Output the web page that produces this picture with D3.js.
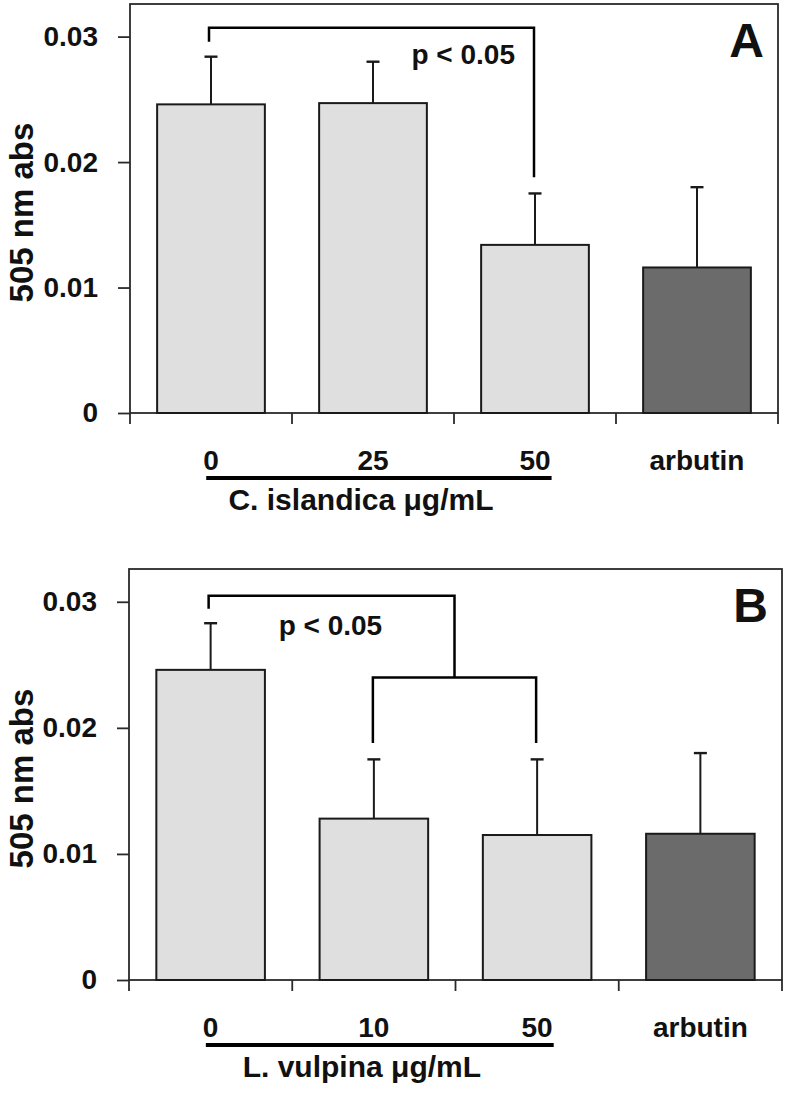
<!DOCTYPE html>
<html>
<head>
<meta charset="utf-8">
<script src="https://cdn.jsdelivr.net/npm/d3@7"></script>
<style>
  html, body { margin: 0; padding: 0; background: #fff; }
  svg text { font-family: "Liberation Sans", Arial, sans-serif; font-weight: bold; fill: #111; }
</style>
</head>
<body>
<svg id="chart" width="788" height="1093"></svg>
<script>
// ---- data ----
const categoriesA = ["0", "25", "50", "arbutin"];
const meansA      = [0.0246, 0.0247, 0.0134, 0.0116];
const errorsA     = [0.0038, 0.0033, 0.0041, 0.0064];

const categoriesB = ["0", "10", "50", "arbutin"];
const meansB      = [0.0246, 0.0128, 0.0115, 0.0116];
const errorsB     = [0.0037, 0.0047, 0.0060, 0.0064];

const yTicks = [0, 0.01, 0.02, 0.03];
const yLabel = "505 nm abs";
const groupTitleA = "C. islandica \u03bcg/mL";
const groupTitleB = "L. vulpina \u03bcg/mL";
const pText = "p < 0.05";

const svg = d3.select("#chart");

function drawPanel(cfg) {
  const { cats, means, errs, left, right, top, bottom, letter, title } = cfg;
  const g = svg.append("g");

  const x = d3.scaleBand().domain(cats).range([left, right])
    .paddingInner(0.335).paddingOuter(0.1675);
  const y = d3.scaleLinear().domain([0, 0.0326]).range([bottom, top]);
  const step = x.step();

  // frame
  g.append("rect").attr("x", left).attr("y", top)
    .attr("width", right - left).attr("height", bottom - top)
    .attr("fill", "none").attr("stroke", "#2a2a2a").attr("stroke-width", 1.8);

  // y axis
  const ya = g.append("g").attr("transform", `translate(${left},0)`)
    .call(d3.axisLeft(y).tickValues(yTicks)
      .tickFormat(d => d === 0 ? "0" : d3.format(".2f")(d))
      .tickSize(12).tickPadding(20));
  ya.select(".domain").remove();
  ya.selectAll(".tick line").attr("stroke", "#2a2a2a").attr("stroke-width", 1.8);
  ya.selectAll(".tick text").style("font-size", "28px").attr("fill", "#111");

  // x ticks at band boundaries
  const bounds = d3.range(cats.length + 1).map(i => left + i * step);
  g.selectAll(".xt").data(bounds).join("line")
    .attr("x1", d => d).attr("x2", d => d)
    .attr("y1", bottom).attr("y2", bottom + 11)
    .attr("stroke", "#2a2a2a").attr("stroke-width", 1.8);

  // bars
  g.selectAll(".bar").data(cats).join("rect")
    .attr("x", d => x(d)).attr("width", x.bandwidth())
    .attr("y", (d, i) => y(means[i]))
    .attr("height", (d, i) => y(0) - y(means[i]))
    .attr("fill", d => d === "arbutin" ? "#6b6b6b" : "#dfdfdf")
    .attr("stroke", "#1a1a1a").attr("stroke-width", 2);

  // error bars (upper only)
  const cx = d => x(d) + x.bandwidth() / 2;
  g.selectAll(".err").data(cats).join("line")
    .attr("x1", cx).attr("x2", cx)
    .attr("y1", (d, i) => y(means[i]))
    .attr("y2", (d, i) => y(means[i] + errs[i]))
    .attr("stroke", "#1a1a1a").attr("stroke-width", 2);
  g.selectAll(".cap").data(cats).join("line")
    .attr("x1", d => cx(d) - 6.5).attr("x2", d => cx(d) + 6.5)
    .attr("y1", (d, i) => y(means[i] + errs[i]))
    .attr("y2", (d, i) => y(means[i] + errs[i]))
    .attr("stroke", "#1a1a1a").attr("stroke-width", 2.4);

  // category labels
  const labs = g.selectAll(".lab").data(cats).join("text")
    .attr("x", cx).attr("y", bottom + 57)
    .attr("text-anchor", "middle").style("font-size", "28px").text(d => d);

  // group underline from first to third label
  const n0 = labs.nodes()[0].getBBox();
  const n2 = labs.nodes()[2].getBBox();
  g.append("line").attr("x1", n0.x + 3).attr("x2", n2.x + n2.width + 1)
    .attr("y1", bottom + 65).attr("y2", bottom + 65)
    .attr("stroke", "#000").attr("stroke-width", 4);

  g.append("text")
    .attr("x", (cx(cats[0]) + cx(cats[2])) / 2 - 12).attr("y", bottom + 97)
    .attr("text-anchor", "middle").style("font-size", "30px").text(title);

  // y label
  g.append("text")
    .attr("transform", `translate(33,${(top + bottom) / 2 + 4}) rotate(-90)`)
    .attr("text-anchor", "middle").style("font-size", "33px").text(yLabel);

  // panel letter
  g.append("text").attr("x", right - 14).attr("y", top + 53)
    .attr("text-anchor", "end").style("font-size", "48px").text(letter);

  return { g, x, y, cx };
}

// ---- Panel A ----
const A = drawPanel({ cats: categoriesA, means: meansA, errs: errorsA,
  left: 130, right: 778, top: 4, bottom: 413, letter: "A", title: groupTitleA });
{
  const { g, y, cx } = A;
  const xl = cx("0") - 2, xr = cx("50") - 1;
  g.append("path")
    .attr("d", `M${xl},${y(0.0296)}V${y(0.0307)}H${xr}V${y(0.0188)}`)
    .attr("fill", "none").attr("stroke", "#000").attr("stroke-width", 2.5);
  g.append("text").attr("x", xr - 19).attr("y", y(0.0307) + 36)
    .attr("text-anchor", "end").style("font-size", "28px").text(pText);
}

// ---- Panel B ----
const B = drawPanel({ cats: categoriesB, means: meansB, errs: errorsB,
  left: 129, right: 782, top: 569, bottom: 980, letter: "B", title: groupTitleB });
{
  const { g, y, cx } = B;
  const x0 = cx("0") - 2, x1 = cx("10") - 1, x2 = cx("50") - 1;
  const xm = (x1 + x2) / 2;
  g.append("path")
    .attr("d", `M${x0},${y(0.02945)}V${y(0.03048)}H${xm}V${y(0.0240)}`)
    .attr("fill", "none").attr("stroke", "#000").attr("stroke-width", 2.5);
  g.append("path")
    .attr("d", `M${x1},${y(0.0188)}V${y(0.0240)}H${x2}V${y(0.0188)}`)
    .attr("fill", "none").attr("stroke", "#000").attr("stroke-width", 2.5);
  g.append("text").attr("x", x0 + 70).attr("y", y(0.03048) + 39)
    .attr("text-anchor", "start").style("font-size", "28px").text(pText);
}
</script>
</body>
</html>
